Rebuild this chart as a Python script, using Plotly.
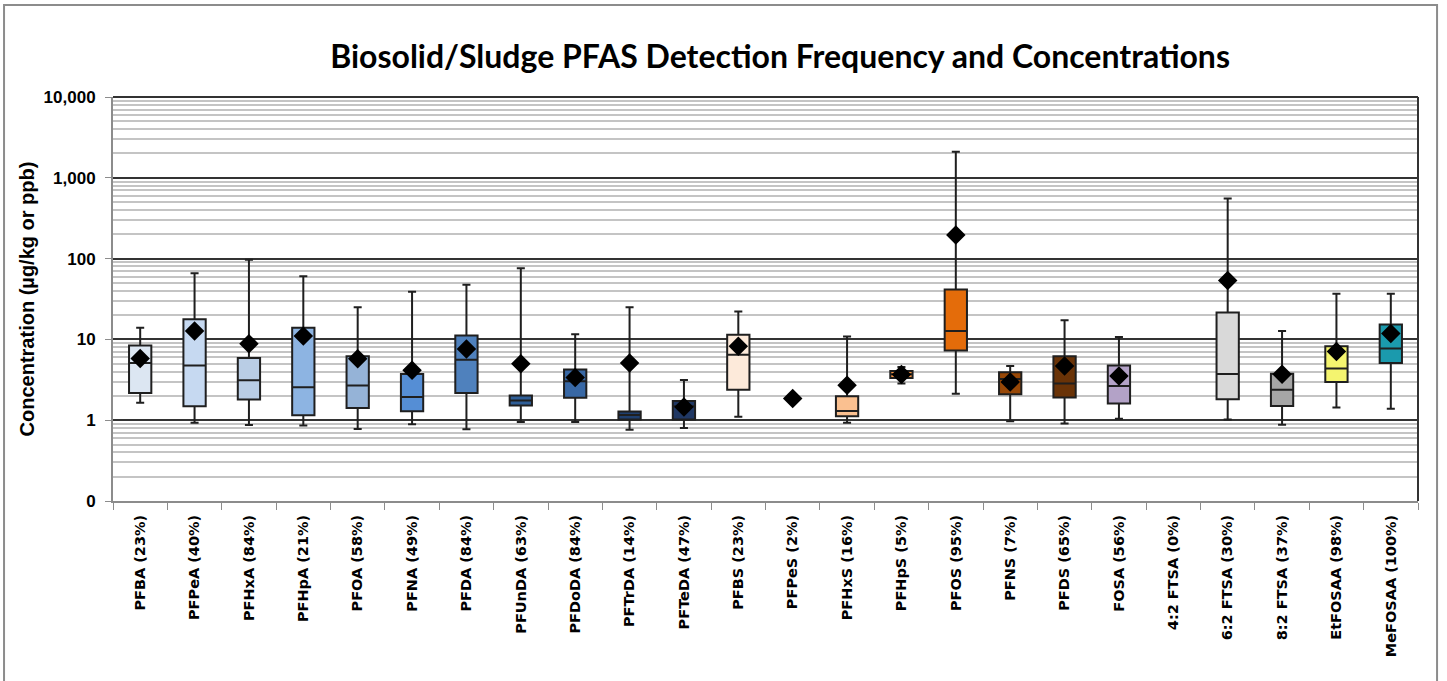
import plotly.graph_objects as go

categories = ["PFBA (23%)", "PFPeA (40%)", "PFHxA (84%)", "PFHpA (21%)", "PFOA (58%)",
              "PFNA (49%)", "PFDA (84%)", "PFUnDA (63%)", "PFDoDA (84%)", "PFTrDA (14%)",
              "PFTeDA (47%)", "PFBS (23%)", "PFPeS (2%)", "PFHxS (16%)", "PFHpS (5%)",
              "PFOS (95%)", "PFNS (7%)", "PFDS (65%)", "FOSA (56%)", "4:2 FTSA (0%)",
              "6:2 FTSA (30%)", "8:2 FTSA (37%)", "EtFOSAA (98%)", "MeFOSAA (100%)"]

# None = no box drawn for that compound
whisker_min = [1.64, 0.93, 0.87, 0.86, 0.78, 0.89, 0.77, 0.95, 0.95, 0.76, 0.80, 1.10,
               None, 0.93, 2.84, 2.13, 0.97, 0.91, 1.04, None, 1.02, 0.88, 1.44, 1.39]
q1 = [2.17, 1.49, 1.80, 1.15, 1.42, 1.29, 2.17, 1.52, 1.89, 1.02, 1.02, 2.39,
      None, 1.12, 3.33, 7.3, 2.09, 1.91, 1.61, None, 1.82, 1.50, 2.97, 5.1]
median = [5.1, 4.77, 3.12, 2.55, 2.68, 1.94, 5.6, 1.75, 3.03, 1.16, 1.49, 6.47,
          None, 1.30, 3.70, 12.7, 3.23, 2.84, 2.65, None, 3.73, 2.39, 4.35, 7.74]
q3 = [8.4, 17.8, 5.88, 13.9, 6.2, 3.73, 11.2, 2.02, 4.23, 1.28, 1.73, 11.4,
      None, 1.98, 4.06, 41.4, 3.91, 6.17, 4.77, None, 21.5, 3.77, 8.2, 15.3]
whisker_max = [13.9, 65.9, 97.0, 60.5, 25.0, 39.0, 47.3, 75.9, 11.6, 25.0, 3.15, 22.2,
               None, 10.9, 4.55, 2094, 4.69, 17.2, 10.7, None, 555, 12.7, 36.7, 36.7]
mean = [5.8, 12.7, 8.85, 11.0, 5.77, 4.14, 7.6, 5.0, 3.37, 5.1, 1.46, 8.2,
        1.85, 2.7, 3.67, 196, 2.97, 4.69, 3.52, None, 53.5, 3.7, 7.1, 11.8]

colors = ["#dce6f2", "#c6d9f1", "#b9cde5", "#8db4e2", "#95b3d7", "#558ed5", "#4f81bd",
          "#2f5e97", "#3868a5", "#1f3f6e", "#203864", "#fdeada", "#ffffff", "#fac090",
          "#f79646", "#e46c0a", "#984807", "#6a3307", "#b3a2c7", "#ffffff", "#d9d9d9",
          "#a6a6a6", "#f4f46f", "#1b9aad"]

y_tickvals = [0.1, 1, 10, 100, 1000, 10000]
y_ticktext = ["0", "1", "10", "100", "1,000", "10,000"]

fig = go.Figure()

for i, cat in enumerate(categories):
    if q1[i] is None:
        continue
    fig.add_trace(go.Box(
        x=[cat], q1=[q1[i]], median=[median[i]], q3=[q3[i]],
        lowerfence=[whisker_min[i]], upperfence=[whisker_max[i]],
        fillcolor=colors[i],
        line=dict(color="#1f1f1f", width=2),
        whiskerwidth=0.36, width=0.41,
        boxpoints=False, showlegend=False, hoverinfo="skip",
    ))

mx = [c for c, m in zip(categories, mean) if m is not None]
my = [m for m in mean if m is not None]
fig.add_trace(go.Scatter(
    x=mx, y=my, mode="markers",
    marker=dict(symbol="diamond", size=15, color="black"),
    showlegend=False, hoverinfo="skip",
))

minor_vals = [m * 10 ** k for k in range(-1, 4) for m in range(2, 10)]

fig.update_layout(
    width=1447, height=681,
    margin=dict(l=113, r=29, t=97, b=180),
    paper_bgcolor="white", plot_bgcolor="white",
    boxmode="overlay",
    title=dict(
        text="<b>Biosolid/Sludge PFAS Detection Frequency and Concentrations</b>",
        x=0.5391, xanchor="center", y=0.916, yanchor="middle",
        font=dict(family="Lato", size=32, color="black"),
    ),
    xaxis=dict(
        type="category", categoryorder="array", categoryarray=categories,
        range=[-0.5, len(categories) - 0.5],
        tickangle=-90, tickson="boundaries", ticks="outside", ticklen=7,
        tickcolor="#8c8c8c", showline=True, linecolor="#8c8c8c", linewidth=2,
        showgrid=False, ticklabelstandoff=6,
        tickfont=dict(family="DejaVu Sans", size=14.5, color="black", weight="bold"),
    ),
    yaxis=dict(
        type="log", range=[-1, 4],
        tickmode="array", tickvals=y_tickvals, ticktext=y_ticktext,
        ticks="outside", ticklen=6, tickcolor="#8c8c8c",
        showline=True, linecolor="#8c8c8c", linewidth=2,
        showgrid=True, gridcolor="#333333", gridwidth=2,
        zeroline=False, ticklabelstandoff=6,
        tickfont=dict(family="Liberation Sans", size=17, color="black", weight="bold"),
        title=dict(text="<b>Concentration (µg/kg or ppb)</b>",
                   font=dict(family="Liberation Sans", size=20, color="black"),
                   standoff=4),
        minor=dict(tickmode="array", tickvals=minor_vals, showgrid=True,
                   gridcolor="#c4c4c4", gridwidth=1.5, ticks=""),
    ),
    shapes=[
        dict(type="line", xref="paper", yref="paper", x0=0, x1=1, y0=1, y1=1,
             line=dict(color="#333333", width=2)),
        dict(type="line", xref="paper", yref="paper", x0=1, x1=1, y0=0, y1=1,
             line=dict(color="#333333", width=2)),
        dict(type="rect", xref="paper", yref="paper", x0=-0.0835, x1=1.0146,
             y0=-0.6, y1=1.2277, line=dict(color="#8c8c8c", width=2),
             fillcolor="rgba(0,0,0,0)", layer="below"),
    ],
)

fig.write_html("out.html", config={"displayModeBar": False},
               post_script="document.body.style.margin='0px';")
